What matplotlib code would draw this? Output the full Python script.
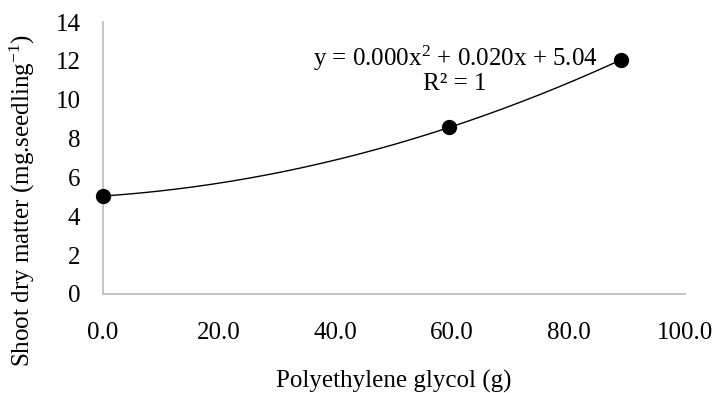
import numpy as np
import matplotlib
matplotlib.use("Agg")
import matplotlib.pyplot as plt

# PEG dose (g) vs shoot dry matter (mg per seedling)
peg_g = [0.0, 59.5, 89.0]
shoot_dm = [5.04, 8.57, 12.05]
x_ticks = [0, 20, 40, 60, 80, 100]
y_ticks = [0, 2, 4, 6, 8, 10, 12, 14]

plt.rcParams['font.family'] = ['Liberation Serif', 'DejaVu Serif']
plt.rcParams['mathtext.fontset'] = 'custom'
plt.rcParams['mathtext.rm'] = 'Liberation Serif'
plt.rcParams['mathtext.it'] = 'Liberation Serif:italic'

fig = plt.figure(figsize=(7.15, 3.93), dpi=100)
ax = fig.add_axes([0.1436, 0.252, 0.8144, 0.692])

# second order trendline through the points
coef = np.polyfit(peg_g, shoot_dm, 2)
xs = np.linspace(min(peg_g), max(peg_g), 200)
ax.plot(xs, np.polyval(coef, xs), color='black', lw=1.0, zorder=2)
ax.plot(peg_g, shoot_dm, 'o', color='black', ms=10, zorder=3, clip_on=False)

ax.set_xlim(0, 100)
ax.set_ylim(0, 14)
ax.set_xticks(x_ticks)
ax.set_xticklabels([f"{t:.1f}" for t in x_ticks])
ax.set_yticks(y_ticks)
ax.tick_params(axis='both', length=0, labelsize=18)
ax.tick_params(axis='x', pad=20)
ax.tick_params(axis='y', pad=16)

for s in ['top', 'right']:
    ax.spines[s].set_visible(False)
for s in ['left', 'bottom']:
    ax.spines[s].set_color('#bfbfbf')
    ax.spines[s].set_linewidth(1.3)

ax.set_xlabel('Polyethylene glycol (g)', fontsize=18, labelpad=19)
ax.set_ylabel(r'Shoot dry matter (mg.seedling$^{\mathregular{-1}}$)', fontsize=18)
ax.yaxis.set_label_coords(-0.112, 0.345)

ax.text(60.5, 12.15, r'y = 0.000x$^{\mathregular{2}}$ + 0.020x + 5.04', fontsize=18,
        ha='center', va='center')
ax.text(60.5, 10.8, 'R² = 1', fontsize=18, ha='center', va='center')

fig.savefig('out.png', dpi=100)
